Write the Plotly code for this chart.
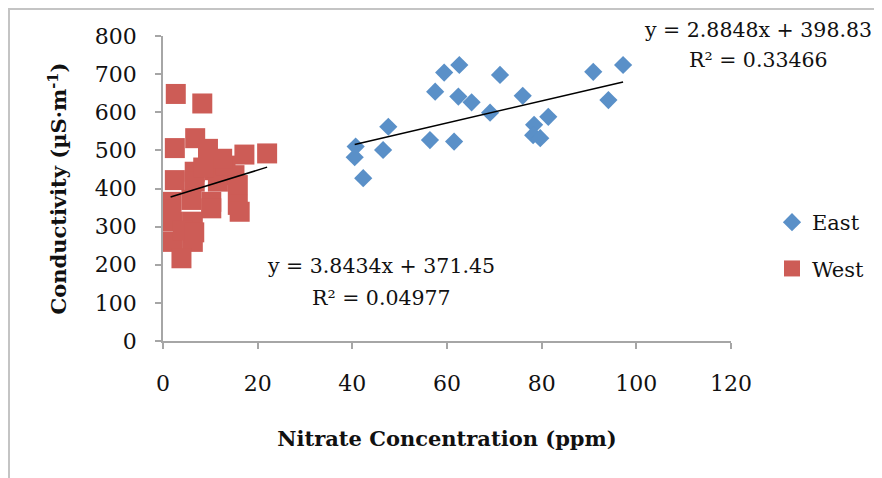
import plotly.graph_objects as go

# ---- data ----
east_x = [40.7, 40.5, 42.3, 47.6, 46.5, 56.4, 61.5, 57.5, 59.4, 62.6, 62.4,
          65.2, 69.1, 71.2, 76.0, 78.4, 81.4, 78.2, 79.7, 90.9, 97.2, 94.1]
east_y = [510, 482, 427, 562, 501, 527, 523, 654, 704, 724, 641,
          626, 599, 698, 643, 567, 588, 540, 532, 706, 724, 632]

west_x = [2.7, 8.3, 6.8, 2.5, 9.5, 17.2, 22.0, 2.5, 6.7, 10.9, 15.1, 6.7,
          11.6, 15.8, 1.8, 6.0, 10.2, 15.8, 16.2, 10.2, 2.1, 6.3, 2.1, 6.3,
          3.9, 13.2, 12.5, 8.5, 4.2, 6.6, 1.6]
west_y = [648, 623, 532, 506, 504, 489, 492, 422, 444, 448, 435, 418,
          418, 409, 365, 370, 365, 357, 339, 348, 313, 313, 260, 260,
          217, 460, 478, 455, 290, 285, 345]

east_slope, east_intercept, east_r2 = 2.8848, 398.83, "0.33466"
west_slope, west_intercept, west_r2 = 3.8434, 371.45, "0.04977"

x_ticks = [0, 20, 40, 60, 80, 100, 120]
y_ticks = [0, 100, 200, 300, 400, 500, 600, 700, 800]

EAST_COLOR = "#5a90c8"
WEST_COLOR = "#cd5c56"
AXIS_COLOR = "#a6a6a6"
TEXT_COLOR = "#111111"
FONT = "DejaVu Serif"

fig = go.Figure()

fig.add_trace(go.Scatter(
    x=east_x, y=east_y, mode="markers", name="East",
    marker=dict(symbol="diamond", size=14, color=EAST_COLOR),
    legendgroup="e"))
fig.add_trace(go.Scatter(
    x=west_x, y=west_y, mode="markers", name="West",
    marker=dict(symbol="square", size=20, color=WEST_COLOR),
    legendgroup="w"))

# trend lines from the fitted coefficients, over each series' x range
ex = [min(east_x), max(east_x)]
wx = [min(west_x), max(west_x)]
fig.add_trace(go.Scatter(
    x=ex, y=[east_slope * v + east_intercept for v in ex], mode="lines",
    line=dict(color="black", width=1.5), showlegend=False, hoverinfo="skip"))
fig.add_trace(go.Scatter(
    x=wx, y=[west_slope * v + west_intercept for v in wx], mode="lines",
    line=dict(color="black", width=1.5), showlegend=False, hoverinfo="skip"))

# the page body adds an 8px margin, so the figure is sized / placed to fit
OFF = 8
W, H = 882 - OFF, 478 - OFF
# plot area in page pixels: x 163..731, y 36..341
L, T = 163 - OFF, 36 - OFF
R = W - (731 - OFF)
B = H - (341 - OFF)
pw, ph = W - L - R, H - T - B


def px(xp):
    return (xp - OFF - L) / pw


def py(yp):
    return (H - B - (yp - OFF)) / ph


ann_font = dict(family=FONT, size=20.5, color=TEXT_COLOR)
annotations = [
    dict(text=f"y = {east_slope}x + {east_intercept}", x=px(758), y=py(30)),
    dict(text=f"R² = {east_r2}", x=px(758), y=py(60)),
    dict(text=f"y = {west_slope}x + {west_intercept}", x=px(381), y=py(266)),
    dict(text=f"R² = {west_r2}", x=px(381), y=py(298)),
]
for a in annotations:
    a.update(xref="paper", yref="paper", showarrow=False, xanchor="center",
             yanchor="middle", font=ann_font)

shapes = [
    dict(type="line", xref="paper", yref="paper", x0=px(9), x1=px(9),
         y0=py(9), y1=py(490), line=dict(color="#c4c4c4", width=2)),
    dict(type="line", xref="paper", yref="paper", x0=px(8), x1=px(900),
         y0=py(9), y1=py(9), line=dict(color="#c4c4c4", width=2)),
]

axis_common = dict(showline=True, linecolor=AXIS_COLOR, linewidth=1.5,
                   ticks="outside", tickcolor=AXIS_COLOR, tickwidth=1.5,
                   ticklen=6, showgrid=False, zeroline=False,
                   tickfont=dict(family=FONT, size=22, color=TEXT_COLOR))

fig.update_layout(
    width=W, height=H,
    margin=dict(l=L, r=R, t=T, b=B, pad=0),
    paper_bgcolor="white", plot_bgcolor="white",
    showlegend=True,
    legend=dict(x=px(772), y=py(202), xanchor="left", yanchor="top",
                font=dict(family=FONT, size=21, color=TEXT_COLOR),
                traceorder="grouped", tracegroupgap=16,
                bgcolor="rgba(0,0,0,0)"),
    xaxis=dict(range=[0, 120], tickvals=x_ticks, ticklabelstandoff=16,
               title=dict(text="<b>Nitrate Concentration (ppm)</b>",
                          font=dict(family=FONT, size=21, color=TEXT_COLOR),
                          standoff=36),
               **axis_common),
    yaxis=dict(range=[0, 800], tickvals=y_ticks, ticklabelstandoff=14,
               title=dict(text="<b>Conductivity (µS·m<sup>-1</sup>)</b>",
                          font=dict(family=FONT, size=21, color=TEXT_COLOR),
                          standoff=22),
               **axis_common),
    annotations=annotations,
    shapes=shapes,
)

fig.write_html("out.html")
